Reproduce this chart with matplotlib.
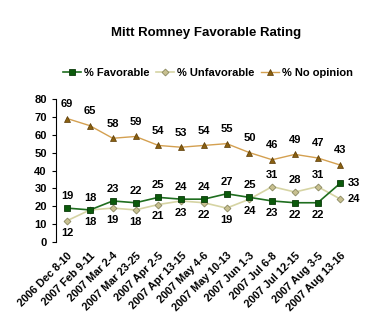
import matplotlib
matplotlib.use("Agg")
import matplotlib.pyplot as plt

plt.rcParams['font.family'] = ['Liberation Sans', 'DejaVu Sans']

dates = ["2006 Dec 8-10", "2007 Feb 9-11", "2007 Mar 2-4", "2007 Mar 23-25",
         "2007 Apr 2-5", "2007 Apr 13-15", "2007 May 4-6", "2007 May 10-13",
         "2007 Jun 1-3", "2007 Jul 6-8", "2007 Jul 12-15", "2007 Aug 3-5",
         "2007 Aug 13-16"]
favorable = [19, 18, 23, 22, 25, 24, 24, 27, 25, 23, 22, 22, 33]
unfavorable = [12, 18, 19, 18, 21, 23, 22, 19, 24, 31, 28, 31, 24]
no_opinion = [69, 65, 58, 59, 54, 53, 54, 55, 50, 46, 49, 47, 43]

# where each value label goes: above (1), below (-1), right (0)
fav_pos = [1, 1, 1, 1, 1, 1, 1, 1, 1, -1, -1, -1, 0]
unf_pos = [-1, -1, -1, -1, -1, -1, -1, -1, -1, 1, 1, 1, 0]

fig = plt.figure(figsize=(3.65, 3.34), dpi=100)
ax = fig.add_axes([0.153, 0.275, 0.811, 0.429])

x = list(range(len(dates)))
ax.plot(x, favorable, color="#1f6e1f", lw=1.2, marker="s", ms=4.5,
        mfc="#0b5a0b", mec="#0b3a0b", mew=0.6, label="% Favorable", zorder=4)
ax.plot(x, unfavorable, color="#d6d4a4", lw=1.2, marker="D", ms=3.5,
        mfc="#c8c090", mec="#8a8860", mew=0.6, label="% Unfavorable", zorder=3)
ax.plot(x, no_opinion, color="#d4a050", lw=1.0, marker="^", ms=5,
        mfc="#8a6010", mec="#5a3a05", mew=0.5, label="% No opinion", zorder=3)

lab = dict(fontsize=8, fontweight="bold", color="black")
for i, v in enumerate(no_opinion):
    ax.annotate(str(v), (i, v), xytext=(0, 7), textcoords="offset points",
                ha="center", va="bottom", **lab)
for series, pos in ((favorable, fav_pos), (unfavorable, unf_pos)):
    for i, (v, p) in enumerate(zip(series, pos)):
        if p == 1:
            ax.annotate(str(v), (i, v), xytext=(0, 5), textcoords="offset points",
                        ha="center", va="bottom", **lab)
        elif p == -1:
            ax.annotate(str(v), (i, v), xytext=(0, -5), textcoords="offset points",
                        ha="center", va="top", **lab)
        else:
            ax.annotate(str(v), (i, v), xytext=(5, 0), textcoords="offset points",
                        ha="left", va="center", **lab)

ax.set_xlim(-0.5, 12.5)
ax.set_ylim(0, 80)
ax.set_yticks(range(0, 81, 10))
ax.set_xticks(x)
ax.set_xticklabels(dates, rotation=45, ha="right", rotation_mode="anchor",
                   fontsize=7.8, fontweight="bold")
ax.tick_params(axis="x", length=0, pad=6)
ax.tick_params(axis="y", labelsize=8, length=3, width=0.8, direction="out")
for lbl in ax.get_yticklabels():
    lbl.set_fontweight("bold")
for s in ("top", "right", "bottom"):
    ax.spines[s].set_visible(False)
ax.spines["left"].set_linewidth(0.8)

fig.text(0.565, 0.90, "Mitt Romney Favorable Rating", ha="center", va="center",
         fontsize=9.5, fontweight="bold")
fig.legend(loc="center", bbox_to_anchor=(0.57, 0.782), ncol=3, frameon=False,
           handlelength=1.6, columnspacing=0.6, handletextpad=0.3,
           prop={"weight": "bold", "size": 8})

fig.savefig("out.png", dpi=100)
